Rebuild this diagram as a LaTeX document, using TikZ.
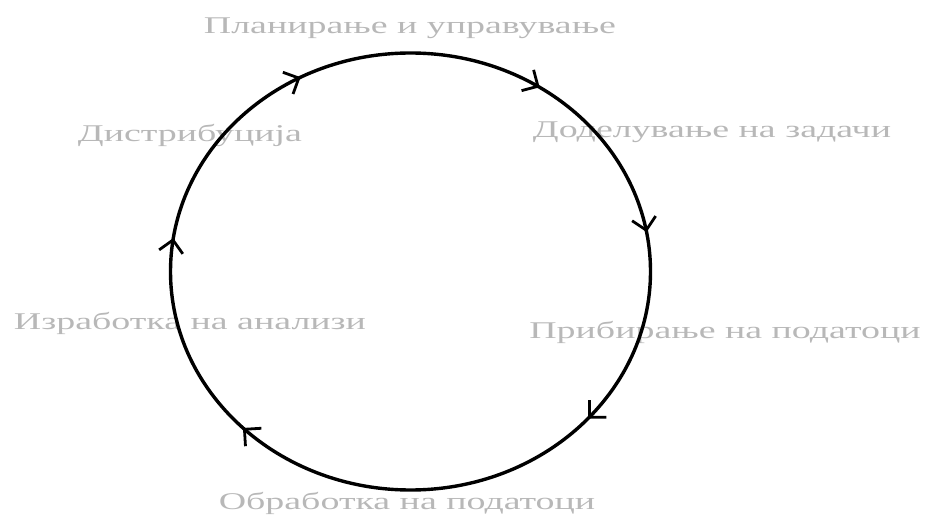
\documentclass[tikz,border=0pt]{standalone}
\usepackage{fontspec}
\setmainfont{Liberation Serif}
\newfontfamily\fazafont[FakeStretch=1.58]{Liberation Serif}
\usetikzlibrary{arrows.meta,decorations.markings}

\begin{document}
\begin{tikzpicture}[x=1pt, y=1pt,
    faza/.style={text=black!28, font=\fazafont\fontsize{24}{28}\selectfont, inner sep=0pt},
    vrv/.tip={Straight Barb[length=12pt, width=24pt]}]
    \useasboundingbox (0,0) rectangle (929,-518);

    % Fazi na ciklusot
    \node[faza] (planiranje) at (410,-28) {Планирање и управување};
    \node[faza] (dodeluvanje) at (712,-132) {Доделување на задачи};
    \node[faza] (pribiranje) at (725,-332) {Прибирање на податоци};
    \node[faza] (obrabotka) at (407,-503) {Обработка на податоци};
    \node[faza] (izrabotka) at (190,-323) {Изработка на анализи};
    \node[faza] (distribucija) at (190,-136) {Дистрибуција};

    % Ciklusot so strelki
    \coordinate (centar) at (410.5,-271.5);
    \draw[line width=3.4pt, postaction={decorate}, decoration={markings,
        mark=at position 0.1138 with {\arrow[line width=2.8pt]{vrv}},
        mark=at position 0.3767 with {\arrow[line width=2.8pt]{vrv}},
        mark=at position 0.5233 with {\arrow[line width=2.8pt]{vrv}},
        mark=at position 0.6713 with {\arrow[line width=2.8pt]{vrv}},
        mark=at position 0.8438 with {\arrow[line width=2.8pt]{vrv}},
        mark=at position 0.9725 with {\arrow[line width=2.8pt]{vrv}}}]
      ([xshift=240pt]centar) arc[start angle=0, end angle=-360, x radius=240, y radius=218.5];
\end{tikzpicture}
\end{document}
